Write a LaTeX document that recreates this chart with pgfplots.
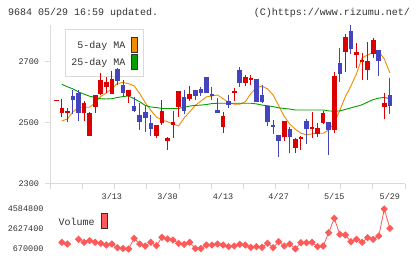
\documentclass[border=0pt]{standalone}
\usepackage{fontspec}
\setmainfont{Liberation Mono}
\usepackage{pgfplots}
\pgfplotsset{compat=1.18}
\usepackage{pgfplotstable}
\newcommand{\fs}[1]{\fontsize{#1bp}{#1bp}\selectfont}
\definecolor{cred}{RGB}{221,0,0}
\definecolor{cblue}{RGB}{68,68,190}
\definecolor{cma5}{RGB}{240,140,0}
\definecolor{cma25}{RGB}{0,160,0}
\definecolor{cvol}{RGB}{255,90,90}
\definecolor{cgrid}{RGB}{218,218,218}
\definecolor{ctext}{RGB}{51,51,51}

\pgfplotstableread{
i bt bb h l
0 2575 2571 2575 2571
1 2546 2532 2577 2517
2 2537 2533 2546 2503
5 2563 2532 2570 2506
6 2532 2457 2535 2457
7 2590 2550 2590 2532
8 2639 2593 2661 2590
9 2632 2617 2648 2597
10 2641 2593 2668 2593
13 2606 2587 2606 2565
18 2492 2457 2492 2448
19 2538 2497 2573 2492
20 2450 2440 2454 2410
21 2503 2492 2539 2448
22 2603 2550 2603 2517
24 2593 2577 2619 2571
30 2521 2484 2535 2465
32 2603 2598 2614 2570
34 2648 2630 2655 2619
35 2646 2638 2655 2622
41 2505 2452 2505 2440
43 2446 2418 2448 2401
44 2454 2445 2457 2410
46 2484 2479 2535 2448
47 2483 2462 2497 2454
48 2532 2499 2539 2495
50 2652 2475 2666 2465
52 2780 2731 2789 2666
54 2731 2722 2761 2677
55 2703 2699 2726 2639
56 2701 2672 2764 2639
57 2770 2723 2777 2712
59 2565 2552 2597 2510
}\redc

\pgfplotstableread{
i bt bb h l
3 2587 2573 2606 2528
4 2597 2532 2606 2506
11 2675 2637 2680 2624
12 2623 2595 2639 2582
14 2554 2538 2584 2535
15 2525 2503 2565 2475
16 2535 2516 2555 2470
17 2497 2478 2525 2456
23 2582 2539 2606 2528
25 2606 2587 2606 2573
26 2609 2597 2617 2587
27 2648 2597 2648 2597
28 2593 2587 2617 2573
29 2541 2532 2579 2532
31 2570 2557 2590 2546
33 2672 2630 2682 2617
36 2641 2568 2641 2568
37 2590 2568 2622 2563
38 2554 2503 2554 2489
39 2491 2487 2508 2462
40 2459 2440 2459 2388
42 2479 2454 2484 2401
45 2505 2478 2510 2430
49 2501 2475 2501 2394
51 2695 2658 2744 2633
53 2799 2739 2819 2723
58 2737 2701 2737 2653
60 2590 2555 2646 2527
}\bluec

\pgfplotstableread{
i v
1 2505
2 2512
3 2535
4 2550
5 2550
6 2550
7 2565
8 2585
9 2597
10 2610
11 2628
12 2631
13 2627
14 2620
15 2595
16 2565
17 2540
18 2518
19 2508
20 2503
21 2495
22 2489
23 2515
24 2535
25 2556
26 2570
27 2584
28 2587
29 2590
30 2578
31 2565
32 2560
33 2560
34 2568
35 2595
36 2615
37 2619
38 2610
39 2590
40 2555
41 2520
42 2495
43 2478
44 2465
45 2460
46 2463
47 2465
48 2465
49 2475
50 2500
51 2540
52 2585
53 2620
54 2660
55 2712
56 2721
57 2730
58 2731
59 2708
60 2662
}\mafive

\pgfplotstableread{
i v
1 2625
2 2617
3 2610
4 2600
5 2593
6 2586
7 2582
8 2578
9 2577
10 2578
11 2582
12 2585
13 2587
14 2578
15 2568
16 2556
17 2551
18 2549
19 2546
20 2546
21 2546
22 2546
23 2550
24 2554
25 2556
26 2557
27 2559
28 2562
29 2563
30 2563
31 2563
32 2563
33 2563
34 2563
35 2563
36 2561
37 2557
38 2555
39 2552
40 2548
41 2546
42 2544
43 2541
44 2541
45 2541
46 2541
47 2541
48 2541
49 2538
50 2537
51 2538
52 2543
53 2548
54 2553
55 2558
56 2567
57 2575
58 2580
59 2582
60 2578
}\matwentyfive

\pgfplotstableread{
i v
1 1322000
2 1159000
3 nan
4 1616000
5 1322000
6 1486000
7 1322000
8 1225000
9 1061000
10 1159000
11 800000
12 720000
13 670000
14 1714000
15 1159000
16 964000
17 1322000
18 996000
19 1812000
20 1649000
21 1551000
22 1225000
23 1127000
24 1322000
25 720000
26 720000
27 1061000
28 1061000
29 1159000
30 1061000
31 898000
32 964000
33 1127000
34 1061000
35 833000
36 898000
37 833000
38 1225000
39 800000
40 1388000
41 964000
42 1159000
43 690000
44 1290000
45 1290000
46 1322000
47 898000
48 964000
49 2269000
50 3671000
51 2105000
52 2040000
53 1388000
54 1616000
55 1322000
56 1779000
57 1616000
58 1942000
59 4584800
60 2693000
}\vol

\begin{document}
\begin{tikzpicture}[x=1bp,y=1bp]
\path[fill=white] (0,0) rectangle (420,259);
\node[anchor=west, inner sep=0, text=ctext, font=\fs{10}] at (8,245.7) {9684 05/29 16:59 updated.};
\node[anchor=east, inner sep=0, text=ctext, font=\fs{10}] at (410,245.7) {(C)https://www.rizumu.net/};
% price legend
\draw[cgrid, fill=white, line width=1bp] (65,229) rectangle (143,182);
\node[anchor=east, inner sep=0, text=ctext, font=\fs{10}] at (125.5,213) {5-day MA};
\node[anchor=east, inner sep=0, text=ctext, font=\fs{10}] at (125.5,195.7) {25-day MA};
\draw[ctext, fill=cma5, line width=0.8bp] (131.5,221.7) rectangle (137.3,206.7);
\draw[ctext, fill=cma25, line width=0.8bp] (131.5,204.7) rectangle (137.3,189.7);
% volume legend
\node[anchor=west, inner sep=0, text=ctext, font=\fs{10}] at (58.5,36.7) {Volume};
\draw[ctext, fill=cvol, line width=0.8bp] (101.7,45.7) rectangle (107.3,30.7);

\begin{axis}[at={(50bp,75.3bp)}, anchor=south west,
  width=355bp, height=158.7bp, scale only axis,
  xmin=-1.133, xmax=62.72, ymin=2300, ymax=2819,
  axis x line*=bottom, axis y line*=left,
  axis line style={cgrid, line width=0.8bp},
  tick style={cgrid, line width=0.8bp},
  tick align=outside, major tick length=5bp,
  xtick={-1.133,4.671,10.476,16.280,22.085,27.889,33.694,39.498,45.303,51.107,56.912,62.716},
  xticklabels={},
  extra x ticks={10,20,30,40,50,60},
  extra x tick labels={3/13,3/30,4/13,4/27,5/15,5/29},
  extra x tick style={major tick length=0pt, tick label style={font=\fs{8.5}, text=ctext, yshift=-6bp}},
  ytick={2300,2500,2700}, yticklabels={2300,2500,2700},
  yticklabel style={font=\fs{8.5}, text=ctext, xshift=-2.5bp},
  clip=false]
\addplot[cma5, line width=0.9bp] table[x=i,y=v] {\mafive};
\addplot[cma25, line width=0.9bp] table[x=i,y=v] {\matwentyfive};
\addplot[draw=none, mark=none, forget plot, error bars/.cd, y dir=both, y explicit, error mark=none,
  error bar style={draw=cred, line width=1bp}]
  table[x=i, y expr={(\thisrow{h}+\thisrow{l})/2}, y error expr={(\thisrow{h}-\thisrow{l})/2}] {\redc};
\addplot[draw=none, mark=none, forget plot, error bars/.cd, y dir=both, y explicit, error mark=none,
  error bar style={draw=cred, line width=4.6bp}]
  table[x=i, y expr={(\thisrow{bt}+\thisrow{bb})/2}, y error expr={(\thisrow{bt}-\thisrow{bb})/2}] {\redc};
\addplot[draw=none, mark=none, forget plot, error bars/.cd, y dir=both, y explicit, error mark=none,
  error bar style={draw=cblue, line width=1bp}]
  table[x=i, y expr={(\thisrow{h}+\thisrow{l})/2}, y error expr={(\thisrow{h}-\thisrow{l})/2}] {\bluec};
\addplot[draw=none, mark=none, forget plot, error bars/.cd, y dir=both, y explicit, error mark=none,
  error bar style={draw=cblue, line width=4.6bp}]
  table[x=i, y expr={(\thisrow{bt}+\thisrow{bb})/2}, y error expr={(\thisrow{bt}-\thisrow{bb})/2}] {\bluec};
\end{axis}

\begin{axis}[at={(50bp,10bp)}, anchor=south west,
  width=355bp, height=40bp, scale only axis,
  xmin=-1.133, xmax=62.72, ymin=670000, ymax=4584800,
  axis x line=none, axis y line*=left,
  y axis line style={draw=none}, major tick length=0pt,
  xtick=\empty, scaled y ticks=false,
  ytick={670000,2627400,4584800}, yticklabels={670000,2627400,4584800},
  yticklabel style={font=\fs{8.5}, text=ctext, xshift=-3bp},
  clip=false, unbounded coords=jump]
\addplot[cvol, line width=0.8bp, mark=square*, mark size=2.2bp, mark options={fill=cvol, draw=cvol, rotate=45}] table[x=i,y=v] {\vol};
\end{axis}
\end{tikzpicture}
\end{document}
